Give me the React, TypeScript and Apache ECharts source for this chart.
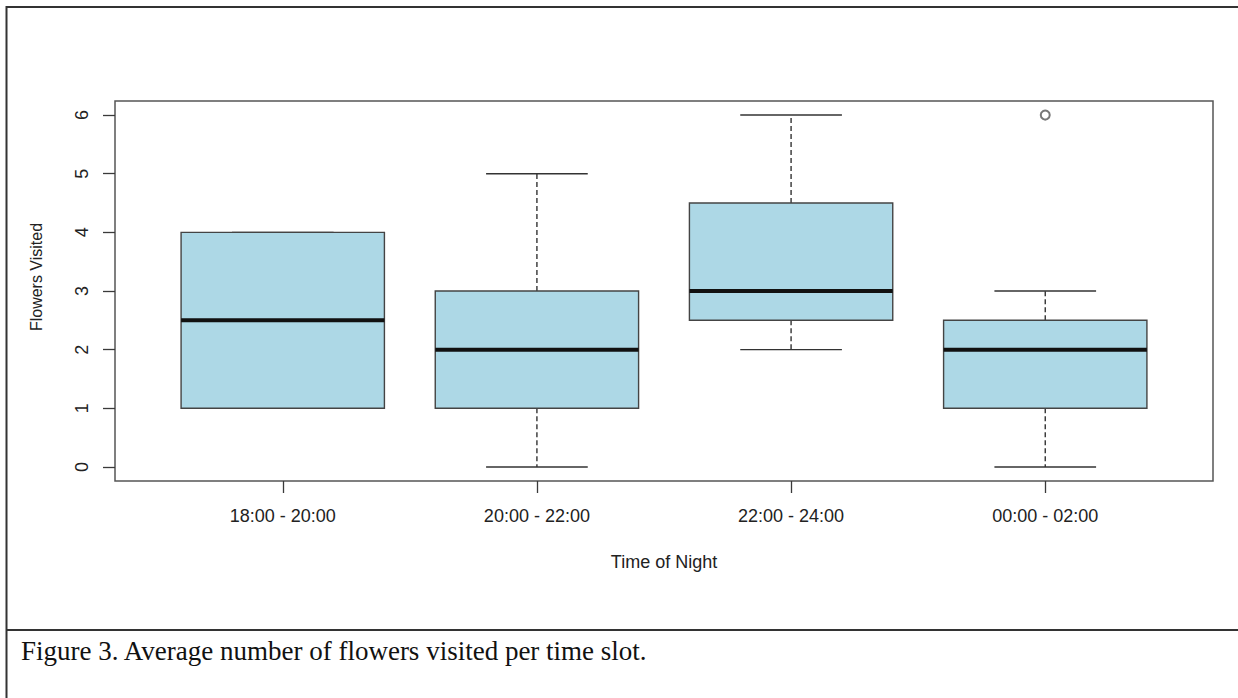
import React, { useEffect, useRef } from "react";
import * as echarts from "echarts";

const categories = ["18:00 - 20:00", "20:00 - 22:00", "22:00 - 24:00", "00:00 - 02:00"];
const whiskerMin = [1, 0, 2, 0];
const q1 = [1, 1, 2.5, 1];
const medians = [2.5, 2, 3, 2];
const q3 = [4, 3, 4.5, 2.5];
const whiskerMax = [4, 5, 6, 3];
const outliers: [number, number][] = [[3, 6]];
const yTicks = [0, 1, 2, 3, 4, 5, 6];

const xAxisTitle = "Time of Night";
const yAxisTitle = "Flowers Visited";
const caption = "Figure 3. Average number of flowers visited per time slot.";

export default function App() {
  const ref = useRef<HTMLDivElement>(null);
  useEffect(() => {
    document.body.style.margin = "0";
    if (!ref.current) return;
    const chart = echarts.init(ref.current, undefined, { renderer: "svg" });
    const xPos = categories.map((_, i) => i + 1);
    const boxData = categories.map((_, i) => [xPos[i], whiskerMin[i], q1[i], medians[i], q3[i], whiskerMax[i]]);
    const outlierData = outliers.map(([i, v]) => [xPos[i], v]);
    const lineColor = "#3a3a3a";
    const textColor = "#222";
    const font = "Liberation Sans, Arial, sans-serif";

    chart.setOption({
      animation: false,
      backgroundColor: "#fff",
      grid: [
        {
          left: 115,
          top: 101,
          width: 1098,
          height: 380,
          show: true,
          borderColor: "#555",
          borderWidth: 1.5,
          backgroundColor: "transparent",
        },
      ],
      xAxis: [
        {
          type: "value",
          min: 0.34,
          max: 4.66,
          position: "bottom",
          axisLine: { show: false, onZero: false },
          axisTick: { show: true, length: 12, customValues: xPos, lineStyle: { color: lineColor, width: 1.3 } },
          axisLabel: {
            margin: 26,
            fontSize: 18,
            color: textColor,
            fontFamily: font,
            customValues: xPos,
            formatter: (v: number) => categories[Math.round(v) - 1] ?? "",
          },
          splitLine: { show: false },
          name: xAxisTitle,
          nameLocation: "middle",
          nameGap: 72,
          nameTextStyle: { fontSize: 18, color: textColor, fontFamily: font },
        },
      ],
      yAxis: [
        {
          type: "value",
          min: -0.24,
          max: 6.24,
          position: "left",
          axisLine: { show: false, onZero: false },
          axisTick: { show: true, length: 12, customValues: yTicks, lineStyle: { color: lineColor, width: 1.3 } },
          axisLabel: {
            margin: 24,
            rotate: 90,
            fontSize: 18,
            color: textColor,
            fontFamily: font,
            customValues: yTicks,
          },
          splitLine: { show: false },
          name: yAxisTitle,
          nameLocation: "middle",
          nameGap: 71,
          nameTextStyle: { fontSize: 16, color: textColor, fontFamily: font, padding: [0, 0, 0, 28] },
        },
      ],
      series: [
        {
          type: "custom",
          data: boxData,
          encode: { x: 0, y: [1, 2, 3, 4, 5] },
          renderItem: (params: any, api: any) => {
            const x = api.value(0);
            const band = api.size([1, 0])[0];
            const bw = band * 0.8;
            const cw = bw * 0.5;
            const pMin = api.coord([x, api.value(1)]);
            const pQ1 = api.coord([x, api.value(2)]);
            const pMed = api.coord([x, api.value(3)]);
            const pQ3 = api.coord([x, api.value(4)]);
            const pMax = api.coord([x, api.value(5)]);
            const cx = pMed[0];
            const stroke = { stroke: "#333", lineWidth: 1.4, fill: null };
            const dashed = { stroke: "#333", lineWidth: 1.4, lineDash: [5, 3], fill: null };
            return {
              type: "group",
              children: [
                { type: "line", shape: { x1: cx, y1: pQ3[1], x2: cx, y2: pMax[1] }, style: dashed },
                { type: "line", shape: { x1: cx, y1: pQ1[1], x2: cx, y2: pMin[1] }, style: dashed },
                { type: "line", shape: { x1: cx - cw / 2, y1: pMax[1], x2: cx + cw / 2, y2: pMax[1] }, style: stroke },
                { type: "line", shape: { x1: cx - cw / 2, y1: pMin[1], x2: cx + cw / 2, y2: pMin[1] }, style: stroke },
                {
                  type: "rect",
                  shape: { x: cx - bw / 2, y: pQ3[1], width: bw, height: pQ1[1] - pQ3[1] },
                  style: { fill: "#ADD8E6", stroke: "#444", lineWidth: 1.4 },
                },
                {
                  type: "line",
                  shape: { x1: cx - bw / 2, y1: pMed[1], x2: cx + bw / 2, y2: pMed[1] },
                  style: { stroke: "#111", lineWidth: 4 },
                },
              ],
            };
          },
        },
        {
          type: "scatter",
          data: outlierData,
          symbol: "emptyCircle",
          symbolSize: 9,
          itemStyle: { color: "#555", borderColor: "#555", borderWidth: 1.5 },
        },
      ],
      graphic: [
        {
          type: "rect",
          shape: { x: 6.5, y: 7, width: 1300, height: 800 },
          style: { fill: null, stroke: "#333", lineWidth: 2 },
          silent: true,
        },
        {
          type: "line",
          shape: { x1: 6.5, y1: 630, x2: 1238, y2: 630 },
          style: { stroke: "#333", lineWidth: 2 },
          silent: true,
        },
        {
          type: "text",
          x: 21,
          y: 664,
          style: {
            text: caption,
            fontSize: 27,
            fontFamily: "Liberation Serif, Times New Roman, serif",
            fill: "#111",
            textVerticalAlign: "bottom",
          },
          silent: true,
        },
      ],
    });
    return () => chart.dispose();
  }, []);
  return <div ref={ref} style={{ width: 1238, height: 698 }} />;
}
